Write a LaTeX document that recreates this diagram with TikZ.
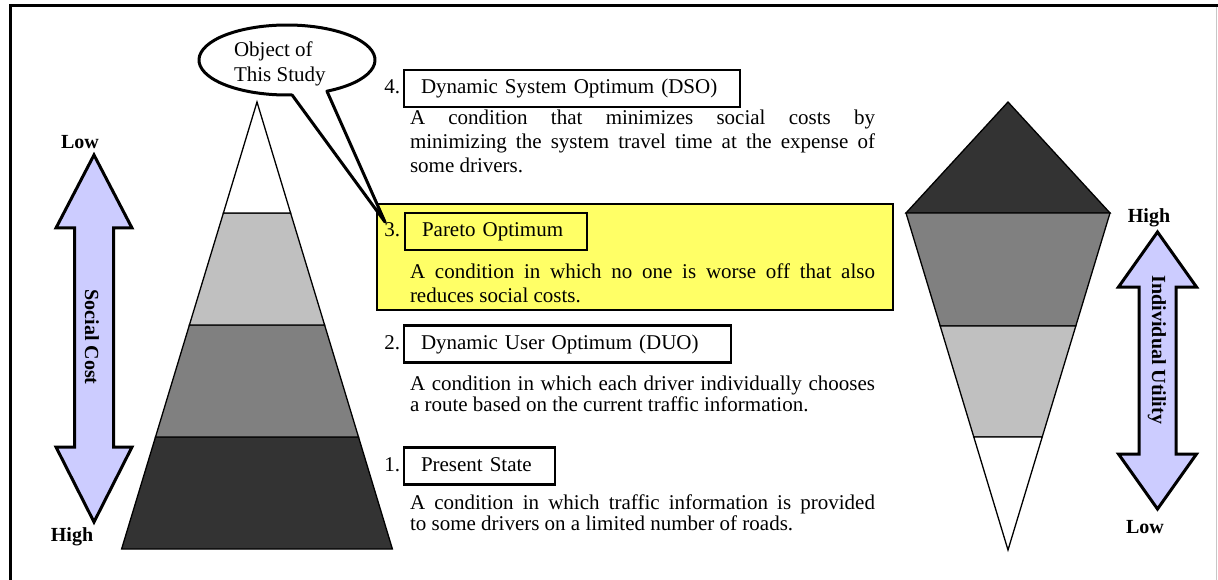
\documentclass[tikz,border=0pt]{standalone}
\usepackage{fontspec}
\setmainfont{Liberation Serif}
\definecolor{dk}{HTML}{333333}
\definecolor{md}{HTML}{808080}
\definecolor{lt}{HTML}{C0C0C0}
\definecolor{lav}{HTML}{CCCCFF}
\definecolor{yel}{HTML}{FFFF66}
\newcommand\fbody{\fontsize{21}{24}\selectfont}
\newcommand\fbold{\fontsize{20}{22}\selectfont\bfseries}
\newlength\dw \setlength\dw{465pt}
\newcommand\jl[1]{\makebox[\dw][s]{#1}}
\begin{document}
\begin{tikzpicture}[x=1pt,y=-1pt,
  every node/.style={inner sep=0pt, outer sep=0pt},
  lyr/.style={draw=black, line width=1.3pt, line join=miter},
  dbl/.style={draw=black, fill=lav, line width=3pt, line join=miter},
  tbox/.style={draw=black, line width=2.6pt, anchor=west, font=\fbody, align=left,
     inner xsep=17pt, inner ysep=9pt, text height=14.5pt, text depth=4.5pt},
  numl/.style={anchor=base east, font=\fbody},
  dline/.style={anchor=base west, font=\fbody},
  bl/.style={font=\fbold}]
\useasboundingbox (0,0) rectangle (1218,580);
% frame
\draw[line width=3pt] (10,582) -- (10,6) -- (1218,6);
\draw[line width=1pt, black!22] (1216.5,7) -- (1216.5,580);
% left pyramid
\path[lyr, fill=dk] (155.5,437) -- (358.5,437) -- (392.4,549) -- (121.6,549) -- cycle;
\path[lyr, fill=md] (189.4,325) -- (324.6,325) -- (358.5,437) -- (155.5,437) -- cycle;
\path[lyr, fill=lt] (223.4,213) -- (290.6,213) -- (324.6,325) -- (189.4,325) -- cycle;
\path[lyr, fill=white] (257,102) -- (290.6,213) -- (223.4,213) -- cycle;
% right shape
\path[lyr, fill=dk] (1008,102) -- (1110,213) -- (906,213) -- cycle;
\path[lyr, fill=md] (906,213) -- (1110,213) -- (1075.8,326) -- (940.2,326) -- cycle;
\path[lyr, fill=lt] (940.2,326) -- (1075.8,326) -- (1042.2,437) -- (973.8,437) -- cycle;
\path[lyr, fill=white] (973.8,437) -- (1042.2,437) -- (1008,550) -- cycle;
% double arrows
\path[dbl] (94,155) -- (132,228) -- (113.5,228) -- (113.5,447) -- (132,447) -- (94,522)
  -- (56,447) -- (74.5,447) -- (74.5,228) -- (56,228) -- cycle;
\path[dbl] (1157.5,232) -- (1196.5,287) -- (1176,287) -- (1176,454) -- (1196.5,454) -- (1157.5,509)
  -- (1118.5,454) -- (1139,454) -- (1139,287) -- (1118.5,287) -- cycle;
\node[bl, rotate=-90] (sc) at (92,337) {Social Cost};
\node[bl, rotate=-90] (iu) at (1157,350) {Individual Utility};
\node[bl] (lowL) at (80,142) {Low};
\node[bl] (highL) at (72,537) {High};
\node[bl] (highR) at (1149,218) {High};
\node[bl] (lowR) at (1145,527) {Low};
% yellow box
\path[draw=black, fill=yel, line width=2.6pt] (377,204) rectangle (893,310);
% item 4
\node[numl] (n4) at (400,93.5) {4.};
\node[tbox, text width=302pt] (t4) at (404,88.5) {Dynamic System Optimum (DSO)};
\node[dline] (d4a) at (410,124.5) {\jl{A condition that minimizes social costs by}};
\node[dline] (d4b) at (410,148.5) {\jl{minimizing the system travel time at the expense of}};
\node[dline] (d4c) at (410,172.5) {some drivers.};
% item 3
\node[numl] (n3) at (400,236.5) {3.};
\node[tbox, text width=148pt] (t3) at (405,231.5) {Pareto Optimum};
\node[dline] (d3a) at (410,278.5) {\jl{A condition in which no one is worse off that also}};
\node[dline] (d3b) at (410,302.5) {reduces social costs.};
% item 2
\node[numl] (n2) at (400,349) {2.};
\node[tbox, text width=293pt] (t2) at (404,344) {Dynamic User Optimum (DUO)};
\node[dline] (d2a) at (410,390.5) {\jl{A condition in which each driver individually chooses}};
\node[dline] (d2b) at (410,411.5) {a route based on the current traffic information.};
% item 1
\node[numl] (n1) at (400,471) {1.};
\node[tbox, text width=117pt] (t1) at (404,466) {Present State};
\node[dline] (d1a) at (410,509.5) {\jl{A condition in which traffic information is provided}};
\node[dline] (d1b) at (410,530.5) {to some drivers on a limited number of roads.};
% callout
\draw[line width=3pt, fill=white, line join=round]
  (292.07,94.94) -- (385,222) -- (326.95,91.19)
  arc[start angle=63, end angle=-273.3, x radius=88, y radius=35] -- cycle;
\node[dline] (ob1) at (234,56.5) {Object of};
\node[dline] (ob2) at (234,81.5) {This Study};
\end{tikzpicture}
\end{document}
